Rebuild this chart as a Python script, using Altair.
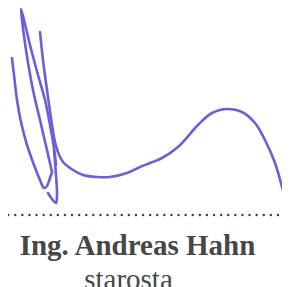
import altair as alt
import pandas as pd

# signature strokes (stroke id, x, y in picture units)
stroke_id = [1]*11 + [2]*14 + [3]*27 + [4]*6
xs = [12, 14, 17, 21, 27, 34, 40, 44, 47, 50, 52,
      52, 47, 40, 33, 26, 22, 21, 24, 30, 38, 45, 50, 54, 56,
      40, 43, 47, 51, 55, 58, 63, 73, 83, 97, 110, 127, 140, 150, 162, 178, 198, 212, 228, 242, 255, 265, 275, 282, 287, 290, 291,
      54, 56, 57, 56, 52, 48]
ys = [58, 75, 100, 122, 145, 165, 180, 188, 186, 178, 172,
      172, 150, 120, 90, 50, 20, 9, 20, 45, 75, 100, 125, 148, 165,
      32, 60, 90, 118, 142, 152, 162, 170, 175, 177, 177, 173, 167, 163, 158, 147, 125, 113, 109, 112, 123, 140, 163, 187, 207, 237, 245,
      150, 175, 195, 203, 199, 193]
order = list(range(len(xs)))

# dotted signature line
line_x = [1]
line_x2 = [281]
line_y = [215]

# labels
label_text = ["Ing. Andreas Hahn", "starosta"]
label_x = [137.5, 128.5]
label_y = [255, 289]
label_weight = ["bold", "normal"]

sig = pd.DataFrame({"s": stroke_id, "x": xs, "y": ys, "o": order})
dots = pd.DataFrame({"x": line_x, "x2": line_x2, "y": line_y})
labels = pd.DataFrame({"t": label_text, "x": label_x, "y": label_y, "w": label_weight})

xsc = alt.Scale(domain=[8, 282], nice=False, zero=False)
ysc = alt.Scale(domain=[8, 287], nice=False, zero=False, reverse=True)

sig_chart = alt.Chart(sig).mark_line(
    interpolate="catmull-rom", color="#6a5fd8", strokeWidth=2.6, clip=False,
    strokeCap="round", strokeJoin="round"
).encode(
    x=alt.X("x:Q", scale=xsc, axis=None),
    y=alt.Y("y:Q", scale=ysc, axis=None),
    detail="s:N",
    order="o:Q",
)

dot_chart = alt.Chart(dots).mark_rule(
    color="#444444", strokeWidth=2.4, strokeDash=[0.1, 7], strokeCap="round", clip=False
).encode(
    x=alt.X("x:Q", scale=xsc, axis=None),
    x2="x2:Q",
    y=alt.Y("y:Q", scale=ysc, axis=None),
)

bold_chart = alt.Chart(labels[labels.w == "bold"]).mark_text(
    font="Liberation Serif", fontWeight="bold", fontSize=29, color="#474747",
    align="center", baseline="alphabetic", clip=False
).encode(
    x=alt.X("x:Q", scale=xsc, axis=None),
    y=alt.Y("y:Q", scale=ysc, axis=None),
    text="t:N",
)

reg_chart = alt.Chart(labels[labels.w == "normal"]).mark_text(
    font="Liberation Serif", fontWeight="normal", fontSize=29, color="#474747",
    align="center", baseline="alphabetic", clip=False
).encode(
    x=alt.X("x:Q", scale=xsc, axis=None),
    y=alt.Y("y:Q", scale=ysc, axis=None),
    text="t:N",
)

chart = alt.layer(sig_chart, dot_chart, bold_chart, reg_chart).properties(
    width=274, height=279, padding=0, autosize=alt.AutoSizeParams(type="none"),
    background="white"
).configure_view(strokeWidth=0)

chart.save("out.html", embed_options={"renderer": "svg", "actions": False})
